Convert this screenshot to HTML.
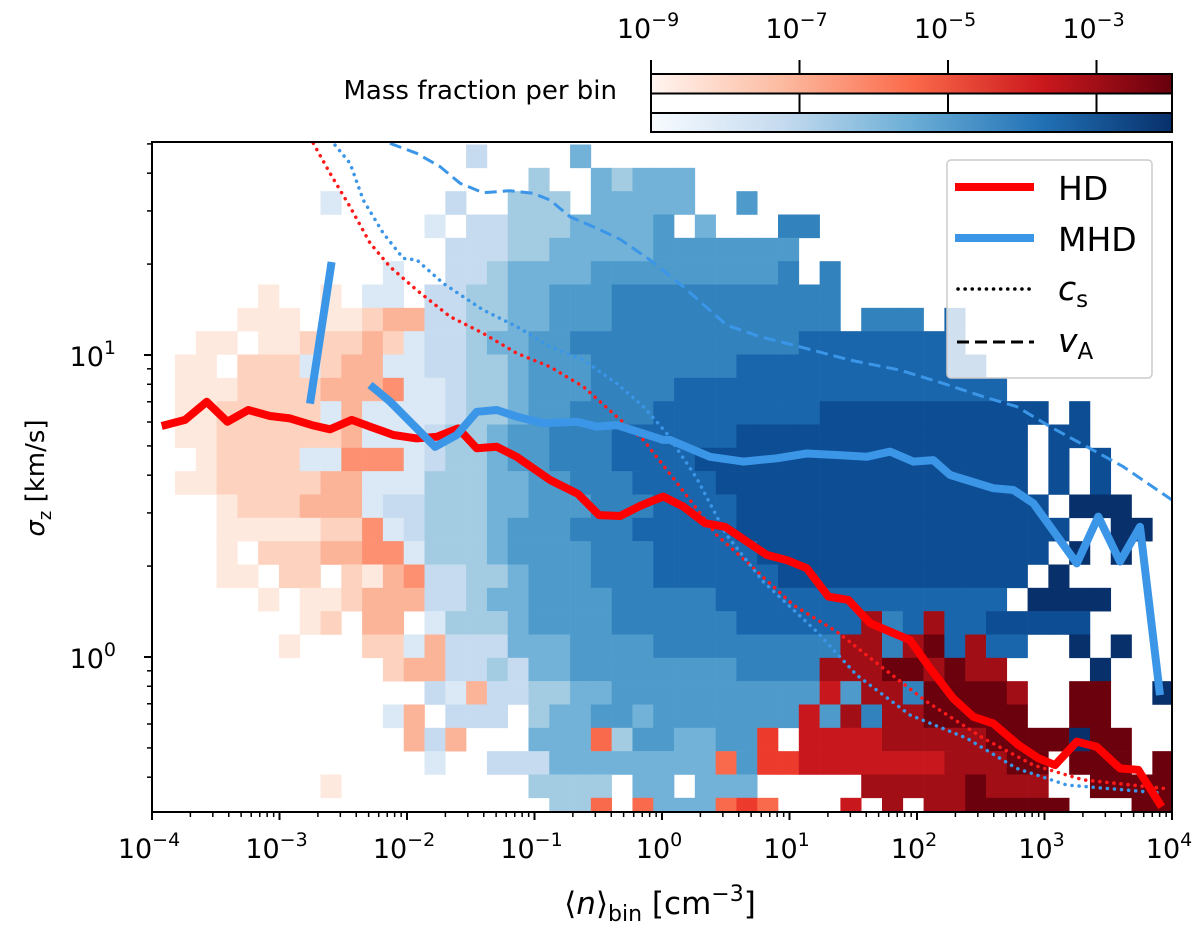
<!DOCTYPE html>
<html><head><meta charset="utf-8"><style>
html,body{margin:0;padding:0;background:#fff;}
svg{display:block;font-family:"DejaVu Sans","Liberation Sans",sans-serif;}
</style></head><body>
<svg id="chart" width="1200" height="947" viewBox="0 0 1200 947" xmlns="http://www.w3.org/2000/svg">
<defs><clipPath id="plotclip"><rect x="152" y="142" width="1020" height="670"/></clipPath>
<linearGradient id="gradReds" x1="0" x2="1" y1="0" y2="0"><stop offset="0" stop-color="#fff5f0"/><stop offset="0.25" stop-color="#fcbba1"/><stop offset="0.5" stop-color="#fb6a4a"/><stop offset="0.75" stop-color="#cb181d"/><stop offset="1" stop-color="#67000d"/></linearGradient>
<linearGradient id="gradBlues" x1="0" x2="1" y1="0" y2="0"><stop offset="0" stop-color="#f7fbff"/><stop offset="0.25" stop-color="#c6dbef"/><stop offset="0.5" stop-color="#6baed6"/><stop offset="0.75" stop-color="#2171b5"/><stop offset="1" stop-color="#08306b"/></linearGradient>
</defs>
<g id="heat" clip-path="url(#plotclip)"></g>
<g id="lines" clip-path="url(#plotclip)"></g>
<rect x="152" y="142" width="1020" height="670" fill="none" stroke="#000" stroke-width="2"/>
<g id="axes"></g>
<text x="660" y="914" text-anchor="middle" font-size="31">⟨<tspan font-style="italic">n</tspan>⟩<tspan font-size="22" dy="7">bin</tspan><tspan dy="-7"> [cm</tspan><tspan font-size="22" dy="-13">−3</tspan><tspan dy="13">]</tspan></text>
<text transform="translate(44,478) rotate(-90)" text-anchor="middle" font-size="26"><tspan font-style="italic">σ</tspan><tspan font-size="18" dy="7">z</tspan><tspan dy="-7"> [km/s]</tspan></text>
<g>
<rect x="947" y="160" width="205" height="218" rx="4" fill="#fff" fill-opacity="0.8" stroke="#ccc" stroke-width="1.5"/>
<line x1="955" y1="187" x2="1034" y2="187" stroke="#ff0000" stroke-width="8"/>
<text x="1058" y="200" font-size="33">HD</text>
<line x1="955" y1="238" x2="1034" y2="238" stroke="#3b96e8" stroke-width="8"/>
<text x="1058" y="251" font-size="33">MHD</text>
<line x1="958" y1="289" x2="1034" y2="289" stroke="#000" stroke-width="3.5" stroke-linecap="round" stroke-dasharray="0.1,7"/>
<text x="1058" y="300" font-size="33" font-style="italic">c<tspan font-style="normal" font-size="23" dy="7">s</tspan></text>
<line x1="957" y1="342" x2="1034" y2="342" stroke="#000" stroke-width="3" stroke-dasharray="12,6"/>
<text x="1058" y="352" font-size="33" font-style="italic">v<tspan font-style="normal" font-size="23" dy="7">A</tspan></text>
</g>
<g>
<text x="617" y="99" text-anchor="end" font-size="26">Mass fraction per bin</text>
<rect x="651" y="74" width="521" height="19.5" fill="url(#gradReds)" stroke="#000" stroke-width="2"/>
<rect x="651" y="93.5" width="521" height="19.5" fill="#fff" stroke="#000" stroke-width="2"/>
<rect x="651" y="113" width="521" height="19" fill="url(#gradBlues)" stroke="#000" stroke-width="2"/>
<g id="cbticks"></g>
</g>
</svg>
<script>
// ---- data ----
const heatRows = [
"...............2....4",
"..................3..43444",
"........1.....2..333.44444..5",
"............." + "1" + "." + "2233344445" + "." + "4" + "..." + "66",
".............." + "22233444445" + "555555",
"..........." + "1" + ".." + "22344445555" + "555556" + "." + "6",
"....." + "a" + ".." + "a" + "." + "11" + "." + "223344555666" + "66666666",
"...." + "aaa" + "." + "aa" + "b" + "cc" + "223344555666" + "66666666" + "." + "666" + "." + "7",
".." + "aa" + "." + "aa" + "b" + "bb" + "c" + "b" + "1" + "223445566666" + "66666677777777",
"." + "aa" + "." + "bbb" + "1" + "b" + "cc" + "11" + "223345556666" + "666777777777777",
"." + "aaabbb" + "b" + "ccc" + "d" + "11" + "23345556666" + "7777777777777777",
"." + "aabbbb" + "b" + "1" + "c" + "1111" + "23345566667" + "777777788888888888" + "." + "8",
"." + "aabbbbbbc" + "111" + "233455666777" + "77788888888888888" + "." + "88",
".." + "abbbb" + "11" + "ddd" + "1" + "2" + "33455666777" + "78888888888888888" + "." + "8" + "." + "8",
"." + "aa" + "bbbbb" + "cc" + "111" + "33344" + "5566677" + "77888888888888888" + "." + "8" + "." + "8",
"..." + "abbb" + "ccc" + "1" + "22" + "333" + "44" + "5556667" + "777888888888888888" + "." + "999",
"..." + "aaaaa" + "bb" + "d" + "1" + "2" + "333" + "4" + "55566677" + "7778888888888888888" + ".." + "99",
"..." + "a" + "." + "bbb" + "cc" + "dd" + "1" + "333" + "4" + "55556667" + "777788888888888888" + "." + "9" + "." + "9",
"..." + "aa" + "." + "bb" + "." + "b" + "a" + "c" + "d" + "22" + "33" + "4" + "5556667" + "77777888888888888" + "." + "9",
"....." + "a" + "." + "aa" + "b" + "ccc" + "22" + "3" + "44" + "5555666" + "6677777777777777" + "." + "9999",
"......." + "a" + "b" + "." + "cc" + "." + "1" + "333" + "4" + "5555666" + "666777777" + "h" + "6" + "7" + "h" + "7788888",
"......" + "a" + "..." + "bb" + "1" + "c" + "222" + "444" + "55556" + "66666666" + "hh" + "6" + "h" + "i" + "7" + "h" + "77" + ".." + "9" + "." + "9",
"..........." + "b" + "cc" + "22" + "3" + "2" + "4455555" + "5556666" + "hhhii" + "hihh" + "...." + "9",
"............." + "2" + "1" + "c" + "22" + "3344555" + "5555555" + "g" + "5" + "hh" + "6" + "iiii" + "h" + ".." + "ii" + ".." + "9",
"..........." + "1" + "c" + "." + "222" + "." + "3445545" + "555555" + "g" + "5" + "h" + "6" + "hhiiiii" + ".." + "ii",
"............" + "c" + "2" + "c" + "..." + "444" + "e" + "3" + "55" + "4455" + "f" + "." + "gggghhhhh" + "iiii" + "9" + "ii",
"............." + "1" + ".." + "222" + "444444" + "44" + "e" + "5" + "ff" + "ggggggg" + "hhhii" + "." + "iii" + "." + "i",
"........" + "a" + "........." + "3333" + "." + "44" + "." + "444" + "....." + "hhhhh" + "i" + "hhh" + ".." + "iiii",
"..................." + "33" + "e" + "." + "e" + "444" + "efe" + "..." + "g" + "." + "h" + "." + "hhiii" + "ii" + "..." + "ii"
];
const binLogNStart = -3.983, binLogNWidth = 0.1631;
const binLogSTop = 1.697, binLogSHeight = 0.07726;

const hdLogN = [-3.924,-3.741,-3.571,-3.409,-3.245,-3.075,-2.918,-2.747,-2.604,-2.434,-2.277,-2.107,-1.924,-1.767,-1.598,-1.453,-1.296,-1.140,-0.878,-0.659,-0.494,-0.329,-0.173,-0.094,0.010,0.167,0.337,0.494,0.821,0.978,1.135,1.305,1.461,1.631,1.945,2.102,2.285,2.442,2.598,2.795,2.951,3.082,3.253,3.409,3.592,3.736,3.919];
const hdLogS = [0.765,0.785,0.845,0.779,0.818,0.798,0.790,0.768,0.754,0.785,0.761,0.735,0.724,0.729,0.757,0.691,0.696,0.663,0.586,0.540,0.470,0.467,0.500,0.514,0.531,0.498,0.443,0.431,0.338,0.321,0.294,0.200,0.189,0.112,0.056,-0.037,-0.137,-0.198,-0.220,-0.291,-0.335,-0.358,-0.280,-0.297,-0.369,-0.374,-0.496];
const mhdSeg1LogN = [-2.761,-2.591];
const mhdSeg1LogS = [0.839,1.308];
const mhdLogN = [-2.290,-2.133,-1.780,-1.610,-1.453,-1.296,-1.140,-0.931,-0.669,-0.512,-0.355,0.010,0.063,0.376,0.638,0.900,1.135,1.370,1.605,1.788,1.971,2.128,2.259,2.598,2.756,2.913,3.253,3.422,3.592,3.749,3.906];
const mhdLogS = [0.901,0.846,0.696,0.735,0.812,0.818,0.796,0.774,0.779,0.763,0.768,0.719,0.719,0.663,0.647,0.658,0.674,0.669,0.663,0.680,0.647,0.652,0.603,0.559,0.553,0.509,0.310,0.465,0.316,0.431,-0.126];
const csHdLogN = [-2.735,-2.604,-2.447,-2.290,-2.133,-1.924,-1.663,-1.402,-1.140,-0.878,-0.617,-0.355,-0.147,0.089,0.429,0.690,1.030,1.370,1.736,2.076,2.520,2.912,3.304,3.932];
const csHdLogS = [1.701,1.602,1.491,1.371,1.292,1.215,1.127,1.072,1.006,0.961,0.895,0.796,0.719,0.592,0.404,0.305,0.172,0.084,-0.037,-0.148,-0.269,-0.358,-0.407,-0.435];
const csMhdLogN = [-2.565,-2.447,-2.343,-2.186,-2.029,-1.924,-1.715,-1.402,-1.140,-0.878,-0.617,-0.355,-0.147,0.037,0.272,0.507,0.795,1.213,1.527,1.945,2.390,2.782,3.174,3.932];
const csMhdLogS = [1.695,1.635,1.513,1.403,1.320,1.315,1.237,1.149,1.094,1.027,0.983,0.906,0.829,0.741,0.592,0.404,0.249,0.084,-0.060,-0.192,-0.269,-0.369,-0.424,-0.451];
const vaLogN = [-2.133,-1.924,-1.741,-1.584,-1.402,-1.192,-1.009,-0.878,-0.722,-0.512,-0.329,-0.094,0.167,0.507,0.769,1.082,1.475,1.867,2.206,2.520,2.782,3.043,3.618,4.000];
const vaLogS = [1.701,1.668,1.624,1.569,1.537,1.544,1.535,1.513,1.458,1.420,1.383,1.315,1.226,1.099,1.061,1.027,0.983,0.950,0.906,0.862,0.829,0.763,0.630,0.520];
const xTickExps = [-4,-3,-2,-1,0,1,2,3,4];
const yTickExps = [0,1];
const cbTickExps = [-9,-7,-5,-3];

// ---- scales ----
const X = l => 152 + (l + 4) * 127.5;
const Y = l => 657 - l * 302;
const CB = e => 651 + (e + 9) * 74.25;
const NS = "http://www.w3.org/2000/svg";
const blues = {"1":"#dbe9f6","2":"#c6dbef","3":"#a3cce3","4":"#72b2d8","5":"#4e9bcb","6":"#3282be","7":"#1a66ad","8":"#0d4d93","9":"#08306b"};
const reds = {"a":"#fee9de","b":"#fdd2bf","c":"#fcb499","d":"#fc9070","e":"#f9694c","f":"#ec3b2c","g":"#c9181d","h":"#a10e15","i":"#6c010e"};
function mk(tag, attrs, parent){const e=document.createElementNS(NS,tag);for(const k in attrs)e.setAttribute(k,attrs[k]);parent.appendChild(e);return e;}

const heat = document.getElementById("heat");
heatRows.forEach((row, r) => {
  for (let c = 0; c < row.length; c++) {
    const ch = row[c];
    const col = blues[ch] || reds[ch];
    if (!col) continue;
    const x0 = X(binLogNStart + c * binLogNWidth), x1 = X(binLogNStart + (c + 1) * binLogNWidth);
    const y0 = Y(binLogSTop - r * binLogSHeight), y1 = Y(binLogSTop - (r + 1) * binLogSHeight);
    const rc = mk("rect", {x:x0, y:y0, width:x1 - x0 + 0.3, height:y1 - y0 + 0.3, fill:col}, heat);
    
    
  }
});

const lines = document.getElementById("lines");
function poly(xs, ys, stroke, w, dash, name) {
  const pts = xs.map((v, i) => X(v).toFixed(1) + "," + Y(ys[i]).toFixed(1)).join(" ");
  const p = mk("polyline", {points:pts, fill:"none", stroke:stroke, "stroke-width":w, "stroke-linejoin":"round"}, lines);
  if (dash) p.setAttribute("stroke-dasharray", dash);
  if (dash && dash.startsWith("0.1")) p.setAttribute("stroke-linecap", "round");
  
  
}
poly(csHdLogN, csHdLogS, "#ff1a1a", 3.5, "0.1,7", "hd-cs-line");
poly(csMhdLogN, csMhdLogS, "#3b96e8", 3.5, "0.1,7", "mhd-cs-line");
poly(vaLogN, vaLogS, "#3b96e8", 3, "12,6", "mhd-va-line");
poly(hdLogN, hdLogS, "#ff0000", 8, null, "hd-line");
poly(mhdSeg1LogN, mhdSeg1LogS, "#3b96e8", 8, null, "mhd-line-segment");
poly(mhdLogN, mhdLogS, "#3b96e8", 8, null, "mhd-line");

// ---- axes ----
const axes = document.getElementById("axes");
xTickExps.forEach(e => {
  const t = mk("line", {x1:X(e), x2:X(e), y1:812, y2:820, stroke:"#000", "stroke-width":2}, axes);
  
  
  const lb = mk("text", {x:X(e) - 3, y:858, "text-anchor":"middle", "font-size":27}, axes);
  
  
  lb.appendChild(document.createTextNode("10"));
  const s = mk("tspan", {"font-size":19, dy:-12}, lb);
  s.textContent = (e < 0 ? "−" : "") + Math.abs(e);
  if (e < 4) for (let m = 2; m <= 9; m++) {
    const xm = X(e + Math.log10(m));
    const mt = mk("line", {x1:xm, x2:xm, y1:812, y2:817, stroke:"#000", "stroke-width":1.5}, axes);
    
    
  }
});
yTickExps.forEach(e => {
  const t = mk("line", {x1:144, x2:152, y1:Y(e), y2:Y(e), stroke:"#000", "stroke-width":2}, axes);
  
  
  const lb = mk("text", {x:116, y:Y(e) + 11, "text-anchor":"end", "font-size":27}, axes);
  
  
  lb.appendChild(document.createTextNode("10"));
  const s = mk("tspan", {"font-size":19, dy:-12}, lb);
  s.textContent = String(e);
});
[-1, 0, 1].forEach(e => {
  for (let m = 2; m <= 9; m++) {
    const l = e + Math.log10(m);
    if (Y(l) < 142 || Y(l) > 812) continue;
    const mt = mk("line", {x1:147, x2:152, y1:Y(l), y2:Y(l), stroke:"#000", "stroke-width":1.5}, axes);
    
    
  }
});

const cbt = document.getElementById("cbticks");
cbTickExps.forEach(e => {
  const x = CB(e);
  const t1 = mk("line", {x1:x, x2:x, y1:60, y2:74, stroke:"#000", "stroke-width":2}, cbt);
  
  
  const t2 = mk("line", {x1:x, x2:x, y1:93.5, y2:113, stroke:"#000", "stroke-width":2}, cbt);
  
  
  const lb = mk("text", {x:x - 3, y:38, "text-anchor":"middle", "font-size":27}, cbt);
  
  
  lb.appendChild(document.createTextNode("10"));
  const s = mk("tspan", {"font-size":19, dy:-12}, lb);
  s.textContent = "−" + Math.abs(e);
});
</script>
</body></html>
